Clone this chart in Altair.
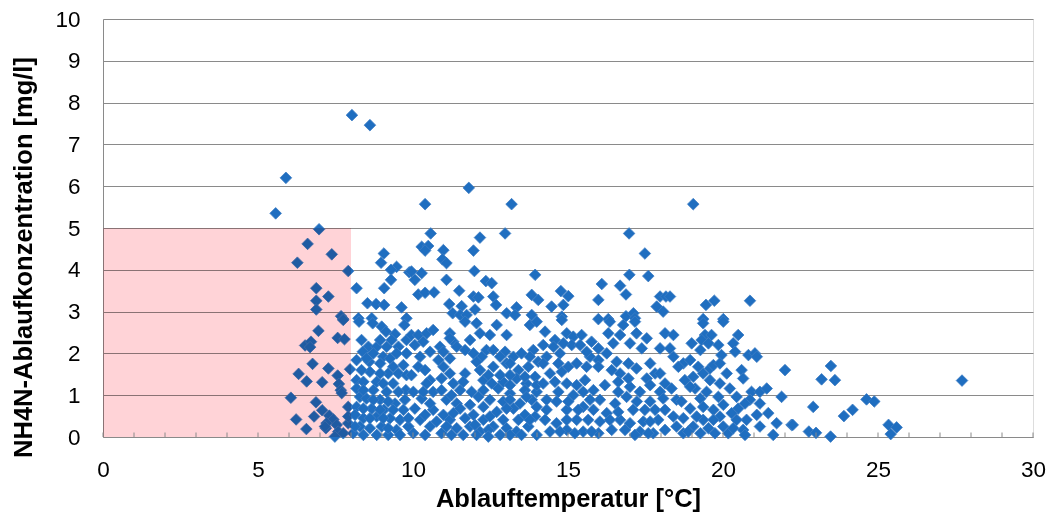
import altair as alt
import pandas as pd

# ---- data: (Ablauftemperatur °C, NH4-N mg/l) ----
pts_pink = [
    (5.57, 5.35), (5.9, 6.2), (6.97, 4.97), (6.6, 4.62), (7.38, 4.37), (6.27, 4.17), (7.91, 3.97),
    (6.88, 3.56), (7.27, 3.36), (6.88, 3.26), (6.88, 3.05), (7.68, 2.89), (7.75, 2.82), (6.95, 2.54),
    (6.52, 2.19), (6.71, 2.28), (6.68, 2.15), (7.57, 2.37), (7.79, 2.34), (6.76, 1.75), (6.31, 1.51),
    (7.27, 1.64), (6.57, 1.33), (7.07, 1.31), (7.57, 1.47), (7.61, 1.27), (7.67, 1.12), (7.70, 1.05),
    (6.06, 0.94), (6.87, 0.83), (7.07, 0.64), (6.23, 0.42), (6.81, 0.49), (7.3, 0.51), (7.43, 0.42),
    (7.21, 0.33), (7.54, 0.29), (6.56, 0.19), (7.19, 0.21), (7.59, 0.13), (7.48, 0.01), (7.91, 0.33),
    (7.91, 0.72), (7.97, 1.62), (7.75, 0.09), (7.16, 0.25), (7.91, 0.49), (7.75, 2.8),
]
pts_high = [
    (8.03, 7.7), (8.61, 7.46), (11.8, 5.96), (10.39, 5.57), (13.18, 5.57), (19.04, 5.57),
]
pts_8_10_upper = [
    (9.06, 4.39), (8.97, 4.17), (9.47, 4.07), (9.29, 4.0), (9.88, 3.94), (9.29, 3.76), (8.18, 3.56),
    (9.07, 3.56), (8.53, 3.2), (8.81, 3.18), (9.07, 3.16), (9.63, 3.1), (8.24, 2.84), (8.67, 2.84),
    (9.79, 2.84),
]
pts_8_10_lower = [
    (8.26, 2.76), (8.7, 2.72), (8.99, 2.64), (9.13, 2.52), (9.42, 2.46), (9.72, 2.68), (8.56, 2.16),
    (8.83, 2.16), (9.15, 2.16), (9.53, 2.16), (8.38, 2.04), (8.72, 2.0), (9.04, 1.92), (9.79, 2.0),
    (8.18, 1.84), (8.59, 1.8), (8.94, 1.76), (9.36, 1.68), (9.69, 1.72), (8.61, 1.56), (9.2, 1.52),
    (9.53, 1.52), (8.18, 1.36), (8.4, 1.32), (8.83, 1.32), (9.36, 1.28), (8.18, 1.16), (8.72, 1.12),
    (9.77, 1.12), (8.29, 0.96), (8.5, 0.92), (8.94, 0.89), (9.42, 0.8), (8.18, 0.72), (8.67, 0.68),
    (9.06, 0.65), (9.69, 0.65), (8.13, 0.53), (8.4, 0.45), (8.83, 0.49), (9.26, 0.45), (9.58, 0.41),
    (8.29, 0.25), (8.61, 0.21), (8.99, 0.25), (9.47, 0.17), (9.85, 0.25), (8.07, 0.09), (8.83, 0.05),
    (9.2, 0.05),
    (8.34, 2.32), (8.94, 2.32), (9.31, 2.32), (9.79, 2.32), (8.5, 1.88), (9.26, 1.88), (9.47, 2.0),
    (8.34, 1.6), (8.94, 1.52), (9.79, 1.48), (9.04, 1.28), (8.4, 1.12), (9.15, 1.08), (9.53, 1.08),
    (8.72, 0.89), (9.2, 0.85), (9.74, 0.89), (8.4, 0.68), (8.94, 0.65), (9.36, 0.65), (8.61, 0.45),
    (9.04, 0.45), (9.85, 0.45), (8.13, 0.25), (9.2, 0.21), (8.4, 0.05), (9.58, 0.05),
]
pts_10_14_upper = [
    (10.57, 4.87), (12.16, 4.77), (12.97, 4.87), (10.28, 4.55), (10.49, 4.57), (10.39, 4.46),
    (10.98, 4.47), (11.95, 4.46), (10.95, 4.25), (11.08, 4.16), (9.95, 3.96), (10.28, 3.92),
    (10.06, 3.76), (11.98, 3.97), (11.08, 3.76), (12.35, 3.73), (12.54, 3.68), (13.94, 3.88),
    (11.49, 3.5), (10.17, 3.41), (10.39, 3.45), (10.68, 3.46), (11.95, 3.36), (12.11, 3.34),
    (12.59, 3.36), (12.68, 3.16), (11.17, 3.18), (11.57, 3.13), (13.83, 3.4), (14.04, 3.28),
    (13.34, 3.1), (12.0, 3.05), (11.28, 2.96), (11.52, 2.92), (11.73, 2.92), (13.02, 2.96),
    (13.29, 2.92), (13.83, 2.92),
]
pts_10_14_lower = [
    (9.95, 2.44), (10.17, 2.44), (10.44, 2.48), (10.65, 2.56), (10.33, 2.28), (11.19, 2.48),
    (11.3, 2.28), (11.68, 2.76), (12.05, 2.72), (12.16, 2.48), (12.48, 2.44), (12.7, 2.68),
    (13.02, 2.44), (13.77, 2.68), (13.99, 2.76), (10.06, 2.2), (10.87, 2.16), (10.98, 2.04),
    (10.55, 2.04), (11.41, 2.16), (11.95, 2.0), (12.22, 1.92), (12.37, 2.08), (12.97, 2.04),
    (13.24, 1.92), (13.5, 2.0), (13.88, 2.08), (10.23, 1.92), (11.19, 1.88), (10.17, 1.68),
    (10.98, 1.68), (11.68, 1.52), (12.05, 1.8), (12.59, 1.68), (13.02, 1.76), (13.4, 1.6),
    (13.72, 1.68), (13.94, 1.44), (9.95, 1.48), (10.55, 1.36), (11.3, 1.28), (12.27, 1.36),
    (12.91, 1.32), (13.34, 1.4), (13.66, 1.28), (10.01, 1.08), (10.44, 1.28), (10.65, 1.08),
    (10.92, 1.12), (11.52, 1.12), (11.89, 1.08), (12.27, 1.12), (12.75, 1.16), (13.13, 1.04),
    (13.61, 1.12), (13.99, 1.08), (10.28, 0.92), (11.08, 0.89), (11.41, 0.8), (12.48, 0.89),
    (12.91, 0.85), (13.45, 0.8), (13.83, 0.89), (10.06, 0.68), (10.65, 0.65), (10.98, 0.53),
    (11.52, 0.68), (11.95, 0.53), (12.27, 0.41), (12.7, 0.6), (13.24, 0.68), (13.61, 0.53),
    (13.94, 0.49), (10.23, 0.41), (10.55, 0.25), (11.19, 0.41), (11.41, 0.21), (11.84, 0.25),
    (12.16, 0.13), (12.59, 0.25), (13.02, 0.21), (13.34, 0.13), (13.72, 0.25), (10.01, 0.09),
    (10.92, 0.09), (11.62, 0.05), (12.81, 0.05), (13.99, 0.05),
    (11.19, 2.36), (11.84, 2.32), (11.68, 2.08), (12.59, 2.08), (12.81, 1.92), (13.13, 1.76),
    (13.77, 1.92), (14.04, 1.8), (10.82, 1.84), (10.39, 1.6), (11.19, 1.52), (12.16, 1.6),
    (12.43, 1.48), (12.81, 1.48), (13.13, 1.48), (13.61, 1.44), (10.92, 1.4), (11.62, 1.32),
    (12.54, 1.28), (13.13, 1.24), (13.99, 1.24), (10.33, 1.08), (11.24, 1.0), (12.11, 0.96),
    (13.13, 0.89), (13.66, 0.96), (10.55, 0.8), (11.84, 0.77), (12.27, 0.72), (13.02, 0.68),
    (13.99, 0.72), (10.39, 0.53), (11.3, 0.57), (11.68, 0.45), (12.48, 0.49), (12.91, 0.41),
    (13.4, 0.41), (13.77, 0.41), (10.76, 0.37), (11.08, 0.25), (12.0, 0.29), (12.43, 0.17),
    (13.13, 0.05), (13.5, 0.05), (10.39, 0.05), (11.24, 0.05), (12.05, 0.05), (12.43, 0.01),
]
pts_14_18_upper = [
    (16.97, 4.87), (17.48, 4.39), (16.98, 3.88), (17.59, 3.85), (16.09, 3.66), (16.68, 3.62),
    (16.87, 3.41), (14.77, 3.49), (15.01, 3.37), (15.98, 3.28), (14.85, 3.16), (14.47, 3.12),
    (17.97, 3.36), (18.16, 3.36), (17.86, 3.12), (18.07, 3.0), (14.8, 2.88), (15.98, 2.82),
    (16.3, 2.82), (16.87, 2.89), (17.11, 2.96), (17.16, 2.84),
]
pts_14_18_lower = [
    (14.8, 2.8), (14.26, 2.52), (14.58, 2.32), (14.96, 2.48), (15.17, 2.4), (15.44, 2.44),
    (15.12, 2.2), (15.76, 2.28), (15.98, 2.12), (16.3, 2.48), (16.35, 2.76), (16.78, 2.68),
    (17.16, 2.76), (17.21, 2.48), (17.54, 2.36), (17.0, 2.24), (18.13, 2.48), (14.31, 1.92),
    (14.74, 2.0), (15.71, 1.92), (16.25, 2.0), (15.28, 1.76), (15.98, 1.84), (14.42, 1.52),
    (14.8, 1.56), (15.6, 1.68), (16.41, 1.6), (16.68, 1.52), (16.95, 1.76), (17.21, 1.64),
    (17.54, 1.4), (17.81, 1.52), (18.13, 1.28), (14.2, 1.28), (14.96, 1.28), (15.28, 1.24),
    (15.82, 1.12), (16.19, 1.24), (17.0, 1.2), (17.32, 1.08), (17.97, 1.08), (14.31, 0.89),
    (14.63, 0.85), (15.17, 1.0), (15.49, 0.72), (16.03, 0.89), (16.52, 0.8), (16.89, 0.96),
    (17.65, 0.85), (18.07, 0.92), (14.96, 0.65), (15.82, 0.65), (16.25, 0.57), (17.1, 0.65),
    (17.81, 0.65), (14.26, 0.41), (14.63, 0.33), (15.28, 0.41), (15.65, 0.41), (16.68, 0.41),
    (17.0, 0.33), (17.43, 0.37), (17.91, 0.41), (14.42, 0.13), (14.96, 0.17), (15.49, 0.13),
    (15.98, 0.09), (16.41, 0.17), (16.84, 0.17), (17.32, 0.13), (17.75, 0.09), (18.13, 0.17),
    (14.2, 2.2), (14.53, 2.16), (14.85, 2.24), (15.39, 2.2), (15.6, 2.04), (16.46, 2.24),
    (16.68, 2.44), (17.38, 2.12), (17.97, 2.12), (14.2, 1.76), (14.69, 1.76), (15.01, 1.68),
    (15.98, 1.68), (16.57, 1.8), (17.65, 1.76), (17.97, 1.52), (14.58, 1.32), (15.55, 1.36),
    (16.62, 1.32), (16.95, 1.4), (17.65, 1.24), (14.69, 1.08), (15.49, 1.08), (16.62, 1.08),
    (15.01, 0.85), (15.71, 0.89), (17.22, 0.85), (14.31, 0.65), (15.33, 0.65), (16.62, 0.6),
    (17.48, 0.65), (18.13, 0.65), (14.96, 0.41), (16.03, 0.37), (16.35, 0.41), (17.65, 0.37),
    (14.74, 0.13), (15.22, 0.09), (15.76, 0.13), (17.16, 0.05), (17.59, 0.09),
]
pts_18_22 = [
    (18.29, 3.36), (19.45, 3.16), (19.72, 3.26), (20.87, 3.26), (19.36, 2.82), (20.01, 2.82),
    (19.36, 2.72), (20.01, 2.76), (18.4, 2.44), (19.42, 2.44), (19.63, 2.44), (20.49, 2.44),
    (18.99, 2.24), (19.31, 2.32), (19.53, 2.24), (19.85, 2.2), (20.33, 2.24), (19.27, 2.08),
    (20.39, 2.04), (18.29, 2.12), (19.95, 1.96), (20.82, 1.96), (21.03, 2.0), (21.09, 1.92),
    (18.4, 1.92), (18.72, 1.76), (18.56, 1.68), (19.2, 1.68), (19.58, 1.64), (19.69, 1.72),
    (20.6, 1.6), (22.0, 1.6), (18.77, 1.36), (19.04, 1.44), (19.36, 1.52), (19.58, 1.36),
    (20.65, 1.4), (18.34, 1.16), (19.1, 1.16), (19.47, 1.08), (20.22, 1.16), (20.92, 1.08),
    (21.19, 1.08), (21.41, 1.16), (21.89, 0.96), (18.5, 0.89), (18.66, 0.85), (19.27, 0.92),
    (19.85, 0.96), (20.87, 0.89), (18.94, 0.68), (19.69, 0.65), (20.01, 0.77), (20.49, 0.68),
    (20.71, 0.8), (21.09, 0.53), (21.46, 0.57), (18.4, 0.49), (18.72, 0.45), (19.36, 0.41),
    (19.9, 0.49), (20.28, 0.57), (20.76, 0.41), (21.73, 0.33), (22.21, 0.29), (18.5, 0.25),
    (19.04, 0.25), (19.53, 0.21), (20.01, 0.25), (20.65, 0.17), (18.72, 0.09), (19.27, 0.09),
    (19.74, 0.09), (20.17, 0.09), (20.71, 0.05), (21.62, 0.05),
    (18.94, 1.84), (19.9, 1.76), (20.12, 1.52), (18.94, 1.2), (19.9, 1.28), (20.44, 0.96),
    (19.36, 0.72), (21.19, 0.8), (19.15, 0.49), (19.69, 0.41), (20.44, 0.41), (21.19, 0.25),
    (18.88, 0.13), (20.33, 0.21),
]
pts_above_22 = [
    (22.25, 0.29), (22.77, 0.13), (23.0, 0.1), (23.47, 0.01), (22.91, 0.72), (23.18, 1.38),
    (23.48, 1.7), (23.61, 1.36), (23.9, 0.5), (24.18, 0.65), (24.63, 0.9), (24.88, 0.85),
    (25.34, 0.29), (25.6, 0.23), (25.41, 0.07), (27.71, 1.35),
]

limit_temp = [0, 8]      # pink zone: temperature range
limit_nh4 = [0, 5]       # pink zone: NH4-N range
x_tick_values = list(range(0, 31))
x_label_values = [0, 5, 10, 15, 20, 25, 30]
y_label_values = list(range(0, 11))

all_pts = (pts_pink + pts_high + pts_8_10_upper + pts_8_10_lower + pts_10_14_upper
           + pts_10_14_lower + pts_14_18_upper + pts_14_18_lower + pts_18_22 + pts_above_22)
df = pd.DataFrame(all_pts, columns=["temp", "nh4"])
zone = pd.DataFrame({"x": [limit_temp[0]], "x2": [limit_temp[1]],
                     "y": [limit_nh4[0]], "y2": [limit_nh4[1]]})
ticks = pd.DataFrame({"t": x_tick_values})

FONT = "Liberation Sans"
GRAY = "#8a8a8a"
LABEL_SIZE = 22.5
TITLE_SIZE = 25.5

xscale = alt.Scale(domain=[0, 30], nice=False)
yscale = alt.Scale(domain=[0, 10], nice=False)

points = alt.Chart(df).mark_point(
    shape="diamond", filled=True, size=135, fill="#1F6EC0", stroke="#3F7DC4",
    strokeWidth=0.8, opacity=1
).encode(
    x=alt.X("temp:Q", scale=xscale, axis=alt.Axis(
        title="Ablauftemperatur [°C]", values=x_label_values, grid=False, ticks=False,
        domain=True, domainColor=GRAY, domainWidth=1, labelFontSize=LABEL_SIZE, labelFont=FONT,
        labelColor="#000000", labelPadding=21, labelFlush=False, labelOverlap=False,
        titleFont=FONT, titleFontSize=TITLE_SIZE,
        titleFontWeight="bold", titleColor="#000000", titleBaseline="middle", titleY=61)),
    y=alt.Y("nh4:Q", scale=yscale, axis=alt.Axis(
        title="NH4N-Ablaufkonzentration [mg/l]", values=y_label_values, grid=True,
        gridColor=GRAY, gridWidth=1, ticks=False, domain=True, domainColor=GRAY,
        labelFontSize=LABEL_SIZE, labelFont=FONT, labelColor="#000000", labelPadding=23,
        labelFlush=False, labelOverlap=False,
        titleFont=FONT, titleFontSize=TITLE_SIZE, titleFontWeight="bold", titleColor="#000000",
        titleAngle=-90, titleBaseline="middle", titleAlign="center", titleX=-80, titleY=238)),
)

rect = alt.Chart(zone).mark_rect(color="#FFD3D7", blend="multiply").encode(
    x=alt.X("x:Q", scale=xscale), x2="x2:Q",
    y=alt.Y("y:Q", scale=yscale), y2="y2:Q",
)

tick_marks = alt.Chart(ticks).mark_rule(color=GRAY, strokeWidth=1).encode(
    x=alt.X("t:Q", scale=xscale), y=alt.value(418), y2=alt.value(413.5)
)

chart = alt.layer(points, rect, tick_marks).properties(
    width=930, height=418,
    autosize=alt.AutoSizeParams(type="none"),
    padding={"left": 103, "top": 19, "right": 16, "bottom": 77},
).configure_view(stroke=None).configure(background="#ffffff")

chart.save("out.html", embed_options={"renderer": "svg", "actions": False})
